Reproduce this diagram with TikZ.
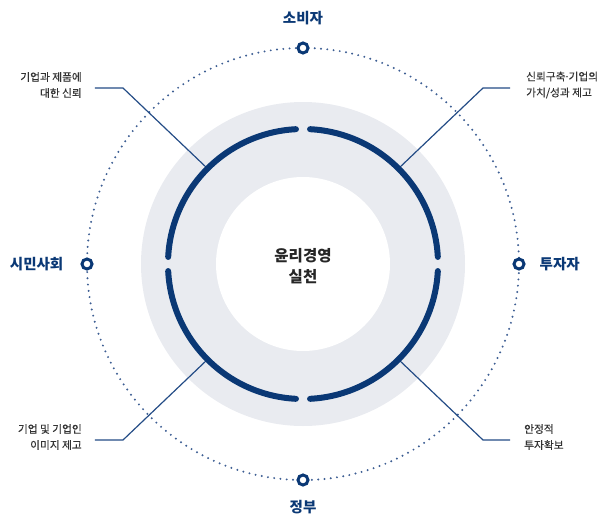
\documentclass[tikz,border=0pt]{standalone}
\usepackage{fontspec}
\setmainfont{Noto Sans CJK KR}
\newfontfamily\notefont[FakeBold=0.35]{Noto Sans CJK KR}
\usetikzlibrary{positioning}
\definecolor{navy}{HTML}{0A3875}
\definecolor{lead}{HTML}{244C86}
\definecolor{dotc}{HTML}{3D5E93}
\definecolor{halo}{HTML}{E9EBF0}
\definecolor{ink}{HTML}{333333}

\begin{document}
\begin{tikzpicture}
[x=1pt,y=1pt,
side/.style={font=\bfseries\fontsize{14.5}{17}\selectfont,text=navy,inner sep=0pt},
note/.style={font=\notefont\fontsize{10.7}{16}\selectfont,text=ink,inner sep=0pt},
spot/.style={shape=circle,draw=navy,fill=white,line width=3pt,minimum size=10pt,inner sep=0pt},
arcpart/.style={draw=navy,line width=6pt,line cap=round},
leader/.style={draw=lead,line width=1.2pt},
orbit/.style={draw=dotc,line width=2.2pt,line cap=round,dash pattern=on 0pt off 6.3pt}]

\useasboundingbox (-303,-255) rectangle (298,264);
\fill[halo] (0,0) circle (162);
\fill[white] (0,0) circle (87);
\draw[orbit] (0,0) circle (216);

\node[font=\bfseries\fontsize{15.5}{21}\selectfont,align=center,text=black!85] (core) at (0,-2) {윤리경영\\실천};

\coordinate (ulring) at (135:135);
\coordinate (ulkink) at (-180,176);
\coordinate (ulend) at (-208,176);
\coordinate (urring) at (45:135);
\coordinate (urkink) at (180,176);
\coordinate (urend) at (207,176);
\coordinate (llring) at (225:135);
\coordinate (llkink) at (-180,-176);
\coordinate (llend) at (-208,-176);
\coordinate (lrring) at (315:135);
\coordinate (lrkink) at (180,-176);
\coordinate (lrend) at (207,-176);

\draw[leader] (ulring) -- (ulkink) -- (ulend);
\draw[leader] (urring) -- (urkink) -- (urend);
\draw[leader] (llring) -- (llkink) -- (llend);
\draw[leader] (lrring) -- (lrkink) -- (lrend);

\foreach \a in {0,90,180,270}
	\draw[arcpart] (\a+3:135) arc[start angle=\a+3,end angle=\a+87,radius=135];

\node[spot] (consumer) at (90:216) {};
\node[spot] (investor) at (0:216) {};
\node[spot] (civil) at (180:216) {};
\node[spot] (gov) at (270:216) {};

\node[side] (consumerlbl) at (0,246) {소비자};
\node[side,right=14pt of investor] (investorlbl) {투자자};
\node[side,left=17pt of civil] (civillbl) {시민사회};
\node[side] (govlbl) at (0,-243) {정부};

\node[note,align=right,left=13pt of ulend,yshift=3pt] (trust) {기업과 제품에\\대한 신뢰};
\node[note,align=left,right=16pt of urend,yshift=3pt] (value) {신뢰구축\kern-1.5pt·\kern-1.5pt기업의\\가치/성과 제고};
\node[note,align=right,left=13pt of llend,yshift=3pt] (image) {기업 및 기업인\\이미지 제고};
\node[note,align=left,right=14pt of lrend,yshift=3pt] (invest) {안정적\\투자확보};
\end{tikzpicture}
\end{document}
